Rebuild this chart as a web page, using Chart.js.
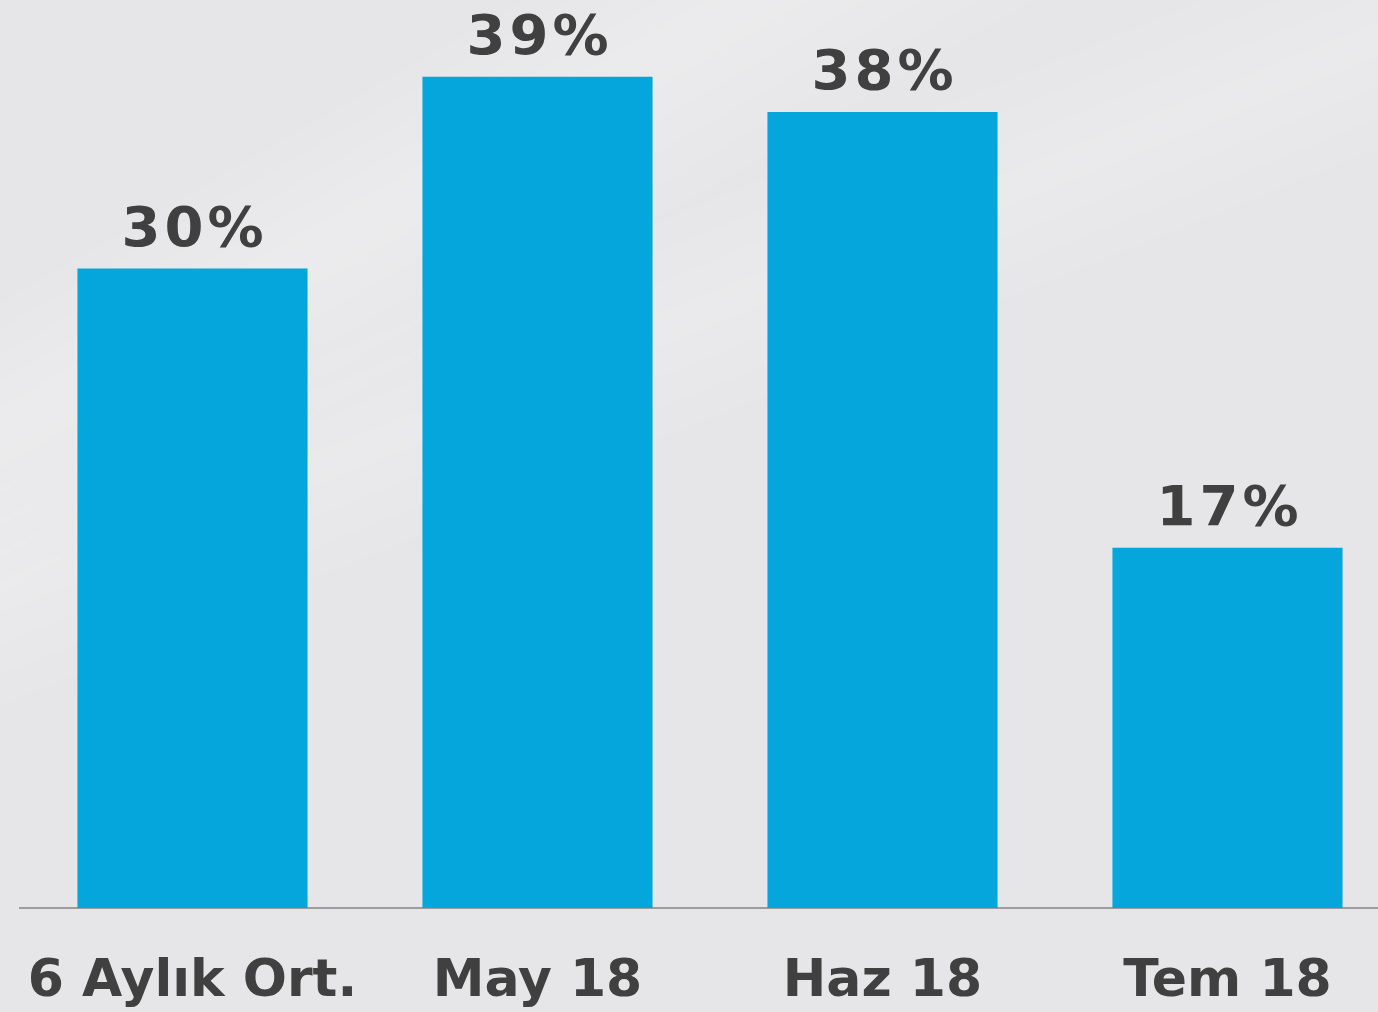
<!DOCTYPE html>
<html>
<head>
<meta charset="utf-8">
<script src="https://cdn.jsdelivr.net/npm/chart.js@4/dist/chart.umd.min.js"></script>
<style>
  html, body { margin: 0; padding: 0; overflow: hidden; width: 1378px; height: 1012px; }
  body {
    background:
      linear-gradient(150deg, rgba(255,255,255,0) 0%, rgba(255,255,255,0) 16%, rgba(255,255,255,0.22) 24%, rgba(255,255,255,0) 34%, rgba(255,255,255,0) 100%),
      linear-gradient(158deg, rgba(255,255,255,0) 0%, rgba(255,255,255,0) 30%, rgba(255,255,255,0.16) 38%, rgba(255,255,255,0) 46%, rgba(255,255,255,0) 100%),
      #e6e6e8;
  }
  #wrap { position: absolute; left: 0; top: 0; width: 1400px; height: 1012px; }
</style>
</head>
<body>
<div id="wrap"><canvas id="c"></canvas></div>
<script>
const categories = ["6 Aylık Ort.", "May 18", "Haz 18", "Tem 18"];
const values = [30, 39, 37.35, 16.9];
const valueLabels = ["30%", "39%", "38%", "17%"];

const FONT = "'DejaVu Sans', Verdana, sans-serif";
const TEXT = "#404040";

const valueLabelPlugin = {
  id: 'valueLabels',
  afterDatasetsDraw(chart) {
    const ctx = chart.ctx;
    const meta = chart.getDatasetMeta(0);
    ctx.save();
    ctx.font = "bold 56px " + FONT;
    ctx.fillStyle = TEXT;
    ctx.textAlign = 'center';
    ctx.textBaseline = 'alphabetic';
    ctx.letterSpacing = '4px';
    meta.data.forEach((bar, i) => {
      ctx.fillText(valueLabels[i], bar.x + 2, bar.y - 23);
    });
    ctx.restore();
  }
};

new Chart(document.getElementById('c'), {
  type: 'bar',
  data: {
    labels: categories,
    datasets: [{
      data: values,
      backgroundColor: '#05a6dc',
      borderWidth: 0,
      barPercentage: 0.667,
      categoryPercentage: 1.0
    }]
  },
  options: {
    responsive: true,
    maintainAspectRatio: false,
    animation: false,
    layout: { padding: { left: 20, right: 0, top: 0, bottom: 0 } },
    plugins: { legend: { display: false }, tooltip: { enabled: false } },
    scales: {
      x: {
        grid: { display: false, drawTicks: false },
        border: { display: true, color: '#9c9c9e', width: 2 },
        ticks: {
          color: TEXT,
          padding: 43,
          font: { family: FONT, size: 52, weight: 'bold', lineHeight: 1.2 },
          maxRotation: 0,
          autoSkip: false
        },
        afterFit(scale) { scale.paddingLeft = 0; scale.paddingRight = 0; scale.height = 104; }
      },
      y: {
        display: false,
        min: 0,
        max: 42.6
      }
    }
  },
  plugins: [valueLabelPlugin]
});
</script>
</body>
</html>
